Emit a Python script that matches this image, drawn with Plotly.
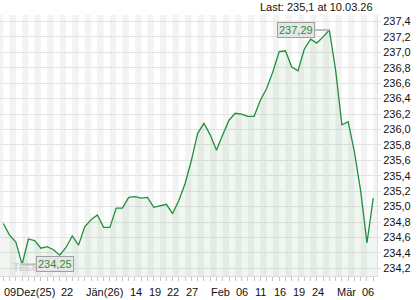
import plotly.graph_objects as go

dates = [
    "2025-12-09", "2025-12-10", "2025-12-11", "2025-12-12", "2025-12-15", "2025-12-16",
    "2025-12-17", "2025-12-18", "2025-12-19", "2025-12-22", "2025-12-23", "2025-12-29",
    "2025-12-30", "2026-01-02", "2026-01-05", "2026-01-07", "2026-01-08", "2026-01-09",
    "2026-01-12", "2026-01-13", "2026-01-14", "2026-01-15", "2026-01-16", "2026-01-19",
    "2026-01-20", "2026-01-21", "2026-01-22", "2026-01-23", "2026-01-26", "2026-01-27",
    "2026-01-28", "2026-01-29", "2026-01-30", "2026-02-02", "2026-02-03", "2026-02-04",
    "2026-02-05", "2026-02-06", "2026-02-09", "2026-02-10", "2026-02-11", "2026-02-12",
    "2026-02-13", "2026-02-16", "2026-02-17", "2026-02-18", "2026-02-19", "2026-02-20",
    "2026-02-23", "2026-02-24", "2026-02-25", "2026-02-26", "2026-02-27", "2026-03-02",
    "2026-03-03", "2026-03-04", "2026-03-05", "2026-03-06", "2026-03-09", "2026-03-10",
]
values = [
    234.78, 234.63, 234.54, 234.25, 234.58, 234.56, 234.46, 234.48, 234.44, 234.37,
    234.47, 234.62, 234.50, 234.74, 234.83, 234.89, 234.73, 234.73, 234.98, 234.98,
    235.12, 235.13, 235.11, 235.12, 234.99, 235.01, 235.03, 234.91, 235.08, 235.30,
    235.60, 235.95, 236.08, 235.93, 235.73, 235.93, 236.12, 236.21, 236.20, 236.17,
    236.17, 236.38, 236.53, 236.75, 237.01, 237.02, 236.81, 236.76, 237.04, 237.17,
    237.12, 237.20, 237.29, 236.77, 236.06, 236.10, 235.71, 235.20, 234.53, 235.11,
]
tick_dates = ["2025-12-09", "2025-12-22", "2026-01-02", "2026-01-14", "2026-01-19",
              "2026-01-22", "2026-01-27", "2026-02-02", "2026-02-06", "2026-02-11",
              "2026-02-16", "2026-02-19", "2026-02-24", "2026-03-02", "2026-03-06"]
tick_labels = ["09Dez(25)", "22", "Jän(26)", "14", "19", "22", "27", "Feb", "06",
               "11", "16", "19", "24", "Mär", "06"]
last_text = "Last: 235,1 at 10.03.26"

FONT = "Liberation Sans, Arial, sans-serif"
GREEN = "#1f8f3f"
idx = list(range(len(dates)))

fig = go.Figure()
fig.add_trace(go.Scatter(
    x=idx, y=values, mode="lines",
    line=dict(color=GREEN, width=1.3),
    fill="tozeroy", fillcolor="rgba(40,140,60,0.07)",
    hoverinfo="skip",
))

# alternating day stripes
shapes = []
for k in range(-1, len(dates), 2):
    shapes.append(dict(type="rect", xref="x", yref="paper", x0=k, x1=k + 1, y0=0, y1=1,
                       fillcolor="#f3f3f3", line=dict(width=0), layer="below"))

annotations = []
for d, t in zip(tick_dates, tick_labels):
    annotations.append(dict(x=dates.index(d), y=0, xref="x", yref="paper", text=t,
                            showarrow=False, xanchor="left", yanchor="middle",
                            xshift=-1, yshift=-16,
                            font=dict(family=FONT, size=11, color="#111")))

annotations.append(dict(x=1, y=1, xref="paper", yref="paper", text=last_text,
                        showarrow=False, xanchor="right", yanchor="bottom",
                        xshift=-2, yshift=0, font=dict(family=FONT, size=11, color="#111")))

annotations.append(dict(x=0.03, y=0, xref="paper", yref="paper", text="<b>TELEBÖRSE</b>",
                        showarrow=False, xanchor="left", yanchor="bottom", yshift=1,
                        font=dict(family=FONT, size=10, color="#d2d2d2")))

imax = values.index(max(values))
imin = values.index(min(values))
for i, ax in ((imax, -33), (imin, 33)):
    annotations.append(dict(
        x=i, y=values[i], xref="x", yref="y",
        text=f"{values[i]:.2f}".replace(".", ","),
        showarrow=True, arrowhead=0, arrowwidth=2, arrowcolor="#bdbdbd",
        ax=ax, ay=0, standoff=0,
        bgcolor="#e6e6e6", bordercolor="#a0a0a0", borderwidth=1, borderpad=1,
        font=dict(family=FONT, size=11, color=GREEN),
    ))

fig.update_layout(
    width=420, height=300,
    margin=dict(l=0, r=43, t=15, b=24),
    paper_bgcolor="white", plot_bgcolor="white",
    separators=",.",
    showlegend=False,
    shapes=shapes,
    annotations=annotations,
    font=dict(family=FONT, size=11, color="#111"),
    xaxis=dict(range=[-0.526, 59.6], showgrid=False, zeroline=False,
               tickmode="linear", tick0=0, dtick=1, ticks="outside", ticklen=4,
               tickcolor="#c4c4c4", showticklabels=False,
               showline=True, linecolor="#dcdcdc", linewidth=1, fixedrange=True),
    yaxis=dict(side="right", range=[234.1, 237.484], tickmode="linear",
               tick0=234.2, dtick=0.2, tickformat=".1f",
               showgrid=True, gridcolor="#e3e3e3", gridwidth=1, zeroline=False,
               ticks="outside", ticklen=3, tickcolor="#e0e0e0",
               showline=True, linecolor="#e0e0e0", linewidth=1,
               tickfont=dict(family=FONT, size=11, color="#111"), fixedrange=True),
)

fig.write_html("out.html", config={"displayModeBar": False})
